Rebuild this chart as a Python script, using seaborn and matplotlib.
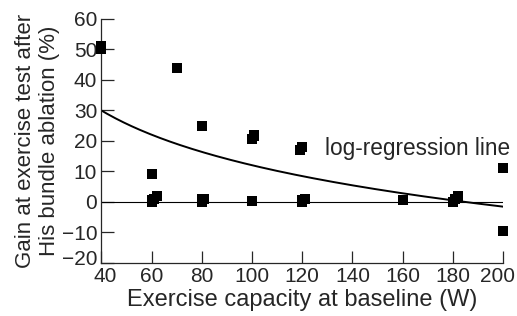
import numpy as np
import pandas as pd
import matplotlib
matplotlib.use("Agg")
import matplotlib.pyplot as plt
import matplotlib.transforms as mtransforms
import seaborn as sns

# Baseline exercise capacity (W) and gain after His bundle ablation (%)
baseline_w = [40, 40, 60, 60, 60, 61, 62, 70, 80, 80, 80, 81,
              100, 100, 101, 101, 119, 120, 120, 121, 120,
              160, 180, 181, 182, 200, 200]
gain_pct = [51, 50, 9, 0, 0.5, 1, 1.8, 44, 25, 0, 0.8, 1,
            0.3, 20.5, 21.5, 22, 17, 18, 0, 1, 0.5,
            0.5, 0, 1, 2, 11, -9.5]

# log-regression: gain = a + b * ln(capacity)
fit_intercept = 102.3
fit_slope = -19.6

x_ticks = [40, 60, 80, 100, 120, 140, 160, 180, 200]
y_ticks = [-20, -10, 0, 10, 20, 30, 40, 50, 60]


def make_chart():
    sns.set_style("ticks")
    plt.rcParams['font.family'] = ['Liberation Sans', 'DejaVu Sans']

    df = pd.DataFrame({"baseline": baseline_w, "gain": gain_pct})

    fig, ax = plt.subplots(figsize=(5.17, 3.16), dpi=100)

    sns.scatterplot(data=df, x="baseline", y="gain", ax=ax, marker="s",
                    s=48, color="black", edgecolor="black", linewidth=0,
                    zorder=3, clip_on=False)

    xs = np.linspace(40, 200, 200)
    sns.lineplot(x=xs, y=fit_intercept + fit_slope * np.log(xs), ax=ax,
                 color="black", linewidth=1.4)
    ax.plot([40, 200], [0, 0], color="black", linewidth=0.8)

    ax.text(129, 17.5, "log-regression line", fontsize=16.3, va="center")

    ax.set_xlim(40, 200)
    ax.set_ylim(-20, 60)
    ax.set_xticks(x_ticks)
    ax.set_yticks(y_ticks)
    ax.set_yticklabels([str(v).replace("-", "\u2212") for v in y_ticks])
    ax.tick_params(direction="in", length=9, width=0.9, labelsize=15, pad=3)
    for sp in ["top", "right"]:
        ax.spines[sp].set_visible(False)
    for sp in ["left", "bottom"]:
        ax.spines[sp].set_linewidth(0.9)

    # nudge crowded corner labels like the original
    xl = ax.get_xticklabels()
    xl[0].set_transform(xl[0].get_transform() +
                        mtransforms.ScaledTranslation(3 / 72, 0, fig.dpi_scale_trans))
    xl[-1].set_transform(xl[-1].get_transform() +
                         mtransforms.ScaledTranslation(-4 / 72, 0, fig.dpi_scale_trans))
    yl = ax.get_yticklabels()
    yl[0].set_transform(yl[0].get_transform() +
                        mtransforms.ScaledTranslation(0, 4 / 72, fig.dpi_scale_trans))

    ax.set_xlabel("Exercise capacity at baseline (W)", fontsize=17, labelpad=2)
    ax.set_ylabel("Gain at exercise test after\nHis bundle ablation (%)",
                  fontsize=16, labelpad=1)

    fig.subplots_adjust(left=0.196, right=0.973, top=0.94, bottom=0.168)
    fig.savefig("out.png", dpi=100)
    plt.close(fig)


if __name__ == "__main__":
    make_chart()
